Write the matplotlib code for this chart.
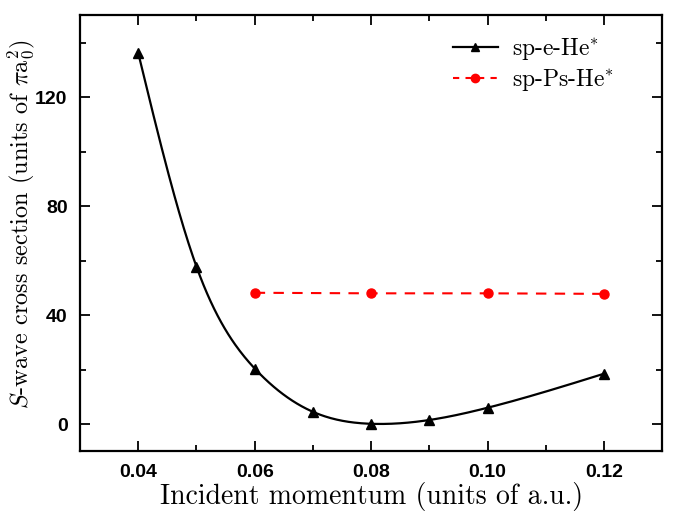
import numpy as np
import matplotlib
matplotlib.use("Agg")
import matplotlib.pyplot as plt
from matplotlib.ticker import MultipleLocator

plt.rcParams['mathtext.fontset'] = 'cm'

# Data
k_e = [0.04, 0.05, 0.06, 0.07, 0.08, 0.09, 0.10, 0.12]
sigma_e = [136.2, 57.8, 20.4, 4.5, 0.1, 1.5, 6.0, 18.5]
k_ps = [0.06, 0.08, 0.10, 0.12]
sigma_ps = [48.2, 48.0, 48.0, 47.8]
xticks = [0.04, 0.06, 0.08, 0.10, 0.12]
yticks = [0, 40, 80, 120]


def natural_spline(x, y, xs):
    x = np.asarray(x, float)
    y = np.asarray(y, float)
    n = len(x)
    h = np.diff(x)
    A = np.zeros((n, n))
    b = np.zeros(n)
    A[0, 0] = 1
    A[-1, -1] = 1
    for i in range(1, n - 1):
        A[i, i - 1] = h[i - 1]
        A[i, i] = 2 * (h[i - 1] + h[i])
        A[i, i + 1] = h[i]
        b[i] = 6 * ((y[i + 1] - y[i]) / h[i] - (y[i] - y[i - 1]) / h[i - 1])
    M = np.linalg.solve(A, b)
    out = np.empty_like(xs)
    for j, xv in enumerate(xs):
        i = min(max(np.searchsorted(x, xv) - 1, 0), n - 2)
        t1 = x[i + 1] - xv
        t0 = xv - x[i]
        out[j] = (M[i] * t1 ** 3 / (6 * h[i]) + M[i + 1] * t0 ** 3 / (6 * h[i])
                  + (y[i] / h[i] - M[i] * h[i] / 6) * t1
                  + (y[i + 1] / h[i] - M[i + 1] * h[i] / 6) * t0)
    return out


fig = plt.figure(figsize=(6.73, 5.11), dpi=100)
ax = fig.add_axes([0.1189, 0.1168, 0.8652, 0.8529])

xs = np.linspace(min(k_e), max(k_e), 400)
ax.plot(xs, natural_spline(k_e, sigma_e, xs), color='black', lw=1.6)
ax.plot(k_e, sigma_e, linestyle='none', marker='^', color='black', markersize=7)
ax.plot(k_ps, sigma_ps, linestyle='--', dashes=(5, 4), color='red', lw=1.5,
        marker='o', markersize=6.5)

# legend proxies
h1, = ax.plot([], [], color='black', lw=1.6, marker='^', markersize=6)
h2, = ax.plot([], [], color='red', lw=1.5, linestyle='--', dashes=(3, 3), marker='o', markersize=6)
leg = ax.legend([h1, h2], ['sp-e-He$^{*}$', 'sp-Ps-He$^{*}$'], loc='upper right',
                bbox_to_anchor=(0.945, 0.99),
                frameon=False, prop={'family': 'cmr10', 'size': 17},
                handlelength=1.9, borderaxespad=0.3, labelspacing=0.2, handletextpad=0.6)

ax.set_xlim(0.03, 0.13)
ax.set_ylim(-10, 150)
ax.set_xticks(xticks)
ax.set_xticklabels([f'{v:.2f}' for v in xticks])
ax.set_yticks(yticks)
ax.set_yticklabels([str(v) for v in yticks])
ax.xaxis.set_minor_locator(MultipleLocator(0.01))
ax.yaxis.set_minor_locator(MultipleLocator(20))
ax.tick_params(which='both', direction='in', top=True, right=True, width=1.3)
ax.tick_params(which='major', length=7, labelsize=14, pad=9)
ax.tick_params(which='minor', length=4)
for lab in ax.get_xticklabels() + ax.get_yticklabels():
    lab.set_fontfamily('Liberation Sans')
    lab.set_fontweight('bold')
for s in ax.spines.values():
    s.set_linewidth(1.6)

ax.set_xlabel('Incident momentum (units of a.u.)', family='cmr10', fontsize=20, labelpad=1)
ax.set_ylabel(r'$S$-wave cross section (units of $\pi\mathrm{a}_0^2$)', family='cmr10',
              fontsize=17.5)
ax.yaxis.set_label_coords(-0.074, 0.52)

fig.savefig('out.png', dpi=100)
